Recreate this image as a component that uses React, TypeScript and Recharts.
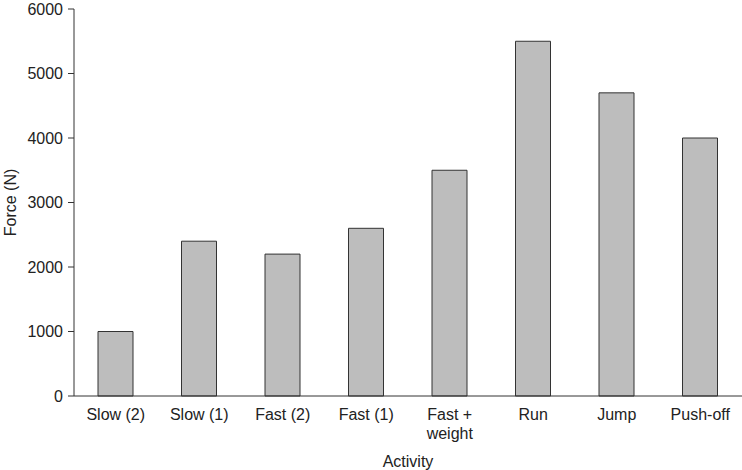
import { BarChart, Bar, XAxis, YAxis } from "recharts";

const activities = ["Slow (2)", "Slow (1)", "Fast (2)", "Fast (1)", "Fast + weight", "Run", "Jump", "Push-off"];
const forces = [1000, 2400, 2200, 2600, 3500, 5500, 4700, 4000];
const yTicks = [0, 1000, 2000, 3000, 4000, 5000, 6000];

const data = activities.map((a, i) => ({ activity: a, force: forces[i] }));

const FONT = "'Liberation Sans', Arial, Helvetica, sans-serif";

function ActivityTick(props: any) {
  const { x, y, payload } = props;
  const label: string = payload.value;
  const lines = label === "Fast + weight" ? ["Fast +", "weight"] : [label];
  return (
    <text x={x} y={y} textAnchor="middle" fontSize={16} fill="#222" fontFamily={FONT}>
      {lines.map((l, i) => (
        <tspan key={i} x={x} dy={i === 0 ? 16 : 19}>
          {l}
        </tspan>
      ))}
    </text>
  );
}

export default function App() {
  return (
    <div style={{ position: "absolute", left: 0, top: 0, background: "#fff" }}>
      <BarChart
        width={742}
        height={470}
        data={data}
        margin={{ top: 9, right: 0, left: 0, bottom: 0 }}
      >
        <XAxis
          dataKey="activity"
          height={74}
          tickLine={false}
          axisLine={{ stroke: "#333" }}
          tick={<ActivityTick />}
          interval={0}
          label={{
            value: "Activity",
            position: "insideBottom",
            offset: 3,
            fontSize: 16,
            fill: "#222",
            fontFamily: FONT,
          }}
        />
        <YAxis
          width={74}
          domain={[0, 6000]}
          ticks={yTicks}
          interval={0}
          tickSize={6}
          tickMargin={5}
          axisLine={{ stroke: "#333" }}
          tickLine={{ stroke: "#333" }}
          tick={{ fontSize: 16, fill: "#222", fontFamily: FONT }}
          label={{
            value: "Force (N)",
            angle: -90,
            position: "insideLeft",
            offset: 0,
            dx: 10,
            fontSize: 16,
            fill: "#222",
            fontFamily: FONT,
            style: { textAnchor: "middle" },
          }}
        />
        <Bar
          dataKey="force"
          fill="#bdbdbd"
          stroke="#333"
          strokeWidth={1}
          barSize={35}
          isAnimationActive={false}
        />
      </BarChart>
    </div>
  );
}
